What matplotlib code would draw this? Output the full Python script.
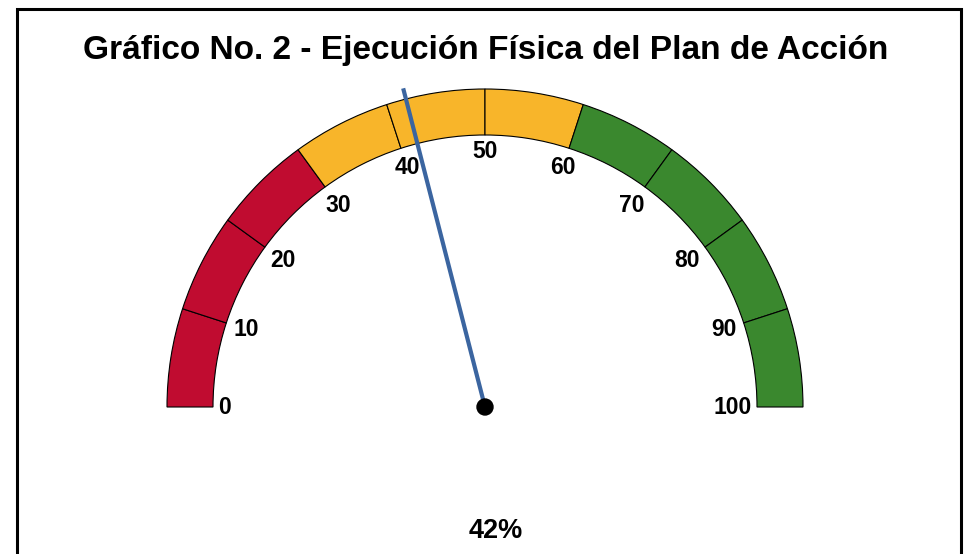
import numpy as np
import matplotlib.pyplot as plt
from matplotlib.patches import Wedge, Circle

# Дані
title = 'Gráfico No. 2 - Ejecución Física del Plan de Acción'
value = 42
tick_values = [0, 10, 20, 30, 40, 50, 60, 70, 80, 90, 100]
tick_labels = ['0', '10', '20', '30', '40', '50', '60', '70', '80', '90', '100']
band_limits = [0, 30, 60, 100]
band_colors = ['#C00C30', '#F8B52A', '#3A882E']
value_label = '42%'

plt.rcParams['font.family'] = ['Liberation Sans', 'DejaVu Sans']

W, H = 969, 554
fig = plt.figure(figsize=(W / 100, H / 100), dpi=100)
ax = fig.add_axes([0, 0, 1, 1])
ax.set_xlim(0, W)
ax.set_ylim(0, H)
ax.axis('off')

def img_y(y):
    return H - y

cx, cy = 485, img_y(407)
r_out, r_in = 318, 272

def pct_to_angle(p):
    return 180 - p * 180 / 100

# сегменти по 10%
for a, b in zip(tick_values[:-1], tick_values[1:]):
    color = band_colors[np.searchsorted(band_limits, a, side='right') - 1]
    w = Wedge((cx, cy), r_out, pct_to_angle(b), pct_to_angle(a), width=r_out - r_in,
              facecolor=color, edgecolor='black', linewidth=0.8)
    ax.add_patch(w)

# підписи шкали
for t, lab in zip(tick_values, tick_labels):
    th = np.radians(pct_to_angle(t))
    tw = len(lab) * 13.0
    th_h = 16
    r_c = r_in - 5 - tw / 2 * abs(np.cos(th)) - (th_h / 2 + 4) * abs(np.sin(th))
    ax.text(cx + r_c * np.cos(th), cy + r_c * np.sin(th), lab, ha='center', va='center',
            fontsize=16.5, fontweight='bold')

# стрілка
th = np.radians(pct_to_angle(value))
needle_len = 329
ax.plot([cx, cx + needle_len * np.cos(th)], [cy, cy + needle_len * np.sin(th)],
        color='#3B65A0', linewidth=3, solid_capstyle='butt', zorder=5)
ax.add_patch(Circle((cx, cy), 8, color='black', zorder=6))

ax.text(486, img_y(50), title, ha='center', va='center', fontsize=24.1, fontweight='bold')
ax.text(496, img_y(531), value_label, ha='center', va='center', fontsize=19.5, fontweight='bold')

# рамка
ax.plot([17.5, 17.5, 961.5, 961.5], [-10, img_y(9), img_y(9), -10], color='black',
        linewidth=2.2, solid_joinstyle='miter', clip_on=False)

fig.savefig('out.png', dpi=100)
